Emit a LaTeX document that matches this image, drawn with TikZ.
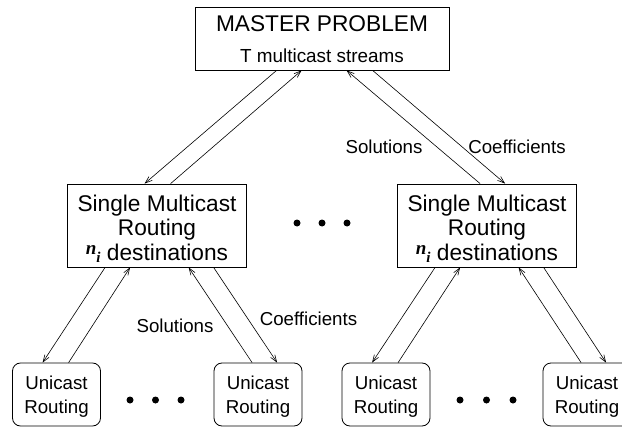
\documentclass[tikz,border=0pt]{standalone}
\usepackage{fontspec}
\setmainfont{Liberation Sans}
\newfontfamily\serifbi{Liberation Serif}
\usetikzlibrary{arrows.meta}
\usetikzlibrary{calc}

\newcommand{\nsub}{%
  \raisebox{6pt}{\fontsize{19}{19}\selectfont\serifbi\bfseries\itshape n}%
  \raisebox{-2pt}{\fontsize{15}{15}\selectfont\serifbi\bfseries\itshape i}}

\tikzset{
  masterbox/.style={draw, line width=0.8pt, inner sep=0pt, align=center,
    minimum width=254pt, minimum height=63pt, text height=49pt, text depth=0pt,
    font=\fontsize{18.9}{31}\selectfont},
  multibox/.style={draw, line width=0.8pt, inner sep=0pt, align=center,
    minimum width=179pt, minimum height=83pt, text height=69pt, text depth=0pt,
    font=\fontsize{22.7}{24.5}\selectfont},
  unibox/.style={draw, line width=0.8pt, rounded corners=8pt, inner sep=0pt, align=center,
    minimum width=88pt, minimum height=63pt, text height=37pt, text depth=0pt,
    font=\fontsize{18.7}{24}\selectfont},
  flowlabel/.style={inner sep=0pt, font=\fontsize{18.7}{22}\selectfont}
}

\begin{document}
\begin{tikzpicture}[x=1pt,y=-1pt,line width=0.6pt,
    >={Straight Barb[length=7pt,width=5pt]}]

        \useasboundingbox (0,0) rectangle (622,428);
        \clip (0,0) rectangle (622,428);

        % Boxes
        \node[masterbox] (master) at (322,38.5)
          {{\fontsize{22.7}{31}\selectfont MASTER PROBLEM}\\T multicast streams};
        \node[multibox] (multiA) at (157,225.5)
          {Single Multicast\\Routing\\\nsub\ destinations};
        \node[multibox] (multiB) at (487,225.5)
          {Single Multicast\\Routing\\\nsub\ destinations};
        \node[unibox] (uniA) at (56.5,394.5) {Unicast\\Routing};
        \node[unibox] (uniB) at (258,394.5) {Unicast\\Routing};
        \node[unibox] (uniC) at (386,394.5) {Unicast\\Routing};
        \node[unibox] (uniD) at (587,394.5) {Unicast\\Routing};

        % Master problem
        \draw[->] ($(master.south west)+(82,0)$) -- ($(multiA.north west)+(77.5,0)$);
        \draw[->] ($(multiA.north west)+(103.5,0)$) -- ($(master.south west)+(107,0)$);
        \draw[->] ($(multiB.north west)+(83,0)$) -- ($(master.south west)+(152,0)$);
        \draw[->] ($(master.south west)+(178,0)$) -- ($(multiB.north west)+(108,0)$);

        \node[flowlabel] (solTop) at (384,146.5) {Solutions};
        \node[flowlabel] (coefTop) at (517,146.5) {Coefficients};

        % Multicast routing
        \foreach \multi/\uniL/\uniR in {multiA/uniA/uniB, multiB/uniC/uniD}
        {
          \draw[->] ($(\multi.south west)+(38,0)$) -- ($(\uniL.north west)+(30.5,0)$);
          \draw[->] ($(\uniL.north west)+(56.5,0)$) -- ($(\multi.south west)+(63,0)$);
          \draw[->] ($(\uniR.north west)+(38.5,0)$) -- ($(\multi.south west)+(121.5,0)$);
          \draw[->] ($(\multi.south west)+(146.5,0)$) -- ($(\uniR.north west)+(63.5,0)$);
        }

        \node[flowlabel] (solBot) at (175,325.5) {Solutions};
        \node[flowlabel] (coefBot) at (308.5,318.5) {Coefficients};

        % Dots
        \foreach \x/\y in {297/223, 322/223, 347/223, 130/400, 155.5/400, 181/400,
                           460/400, 486.5/400, 513/400}
        {
          \fill (\x,\y) circle (3.5);
        }
    \end{tikzpicture}
\end{document}
